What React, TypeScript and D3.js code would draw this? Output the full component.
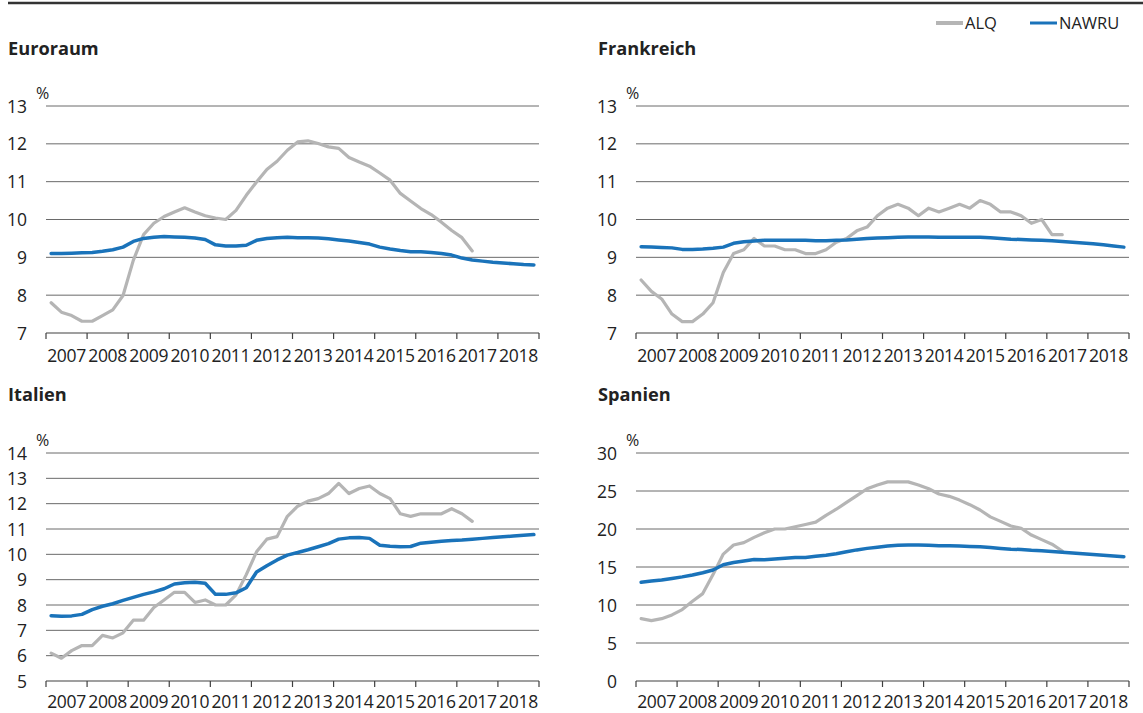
import React from "react";
import * as d3 from "d3";

// ---------- data ----------
const yearLabels = ["2007", "2008", "2009", "2010", "2011", "2012", "2013", "2014", "2015", "2016", "2017", "2018"];
const firstYear = 2007;

// quarterly, 2007Q1 .. 2017Q2
const euroALQ = [7.8, 7.55, 7.46, 7.31, 7.31, 7.46, 7.61, 7.99, 8.92, 9.6, 9.9, 10.08, 10.2, 10.31, 10.2, 10.1, 10.04, 10.0, 10.24, 10.64, 10.99, 11.32, 11.54, 11.83, 12.05, 12.08, 12.01, 11.92, 11.88, 11.64, 11.52, 11.41, 11.23, 11.04, 10.69, 10.49, 10.29, 10.13, 9.93, 9.71, 9.52, 9.17];
// quarterly, 2007Q1 .. 2018Q4
const euroNAWRU = [9.1, 9.1, 9.11, 9.12, 9.13, 9.16, 9.2, 9.27, 9.42, 9.5, 9.53, 9.55, 9.54, 9.53, 9.51, 9.47, 9.33, 9.3, 9.3, 9.32, 9.45, 9.5, 9.52, 9.53, 9.52, 9.52, 9.51, 9.49, 9.46, 9.43, 9.39, 9.35, 9.27, 9.22, 9.18, 9.15, 9.15, 9.13, 9.1, 9.06, 8.98, 8.93, 8.9, 8.87, 8.85, 8.83, 8.81, 8.8];

const franceALQ = [8.4, 8.1, 7.9, 7.5, 7.3, 7.3, 7.5, 7.8, 8.6, 9.1, 9.2, 9.5, 9.3, 9.3, 9.2, 9.2, 9.1, 9.1, 9.2, 9.4, 9.5, 9.7, 9.8, 10.1, 10.3, 10.4, 10.3, 10.1, 10.3, 10.2, 10.3, 10.4, 10.3, 10.5, 10.4, 10.2, 10.2, 10.1, 9.9, 10.0, 9.6, 9.6];
const franceNAWRU = [9.28, 9.27, 9.26, 9.25, 9.21, 9.21, 9.22, 9.24, 9.27, 9.37, 9.41, 9.43, 9.45, 9.45, 9.45, 9.45, 9.45, 9.44, 9.44, 9.45, 9.46, 9.48, 9.5, 9.51, 9.52, 9.53, 9.54, 9.54, 9.54, 9.53, 9.53, 9.53, 9.53, 9.53, 9.52, 9.5, 9.48, 9.47, 9.46, 9.45, 9.44, 9.42, 9.4, 9.38, 9.36, 9.33, 9.3, 9.27];

const italyALQ = [6.1, 5.9, 6.2, 6.4, 6.4, 6.8, 6.7, 6.9, 7.4, 7.4, 7.9, 8.2, 8.5, 8.5, 8.1, 8.2, 8.0, 8.0, 8.4, 9.2, 10.1, 10.6, 10.7, 11.5, 11.9, 12.1, 12.2, 12.4, 12.8, 12.4, 12.6, 12.7, 12.4, 12.2, 11.6, 11.5, 11.6, 11.6, 11.6, 11.8, 11.6, 11.3];
const italyNAWRU = [7.58, 7.56, 7.57, 7.63, 7.82, 7.95, 8.05, 8.18, 8.3, 8.42, 8.52, 8.64, 8.83, 8.88, 8.9, 8.86, 8.42, 8.42, 8.48, 8.68, 9.3, 9.55, 9.78, 9.97, 10.07, 10.18, 10.3, 10.42, 10.6, 10.65, 10.66, 10.63, 10.36, 10.32, 10.3, 10.31, 10.44, 10.48, 10.52, 10.55, 10.57, 10.6, 10.63, 10.66, 10.69, 10.72, 10.75, 10.78];

const spainALQ = [8.2, 7.95, 8.2, 8.7, 9.4, 10.5, 11.5, 14.0, 16.7, 17.9, 18.2, 18.9, 19.5, 20.0, 20.0, 20.3, 20.6, 20.9, 21.8, 22.6, 23.5, 24.4, 25.3, 25.8, 26.2, 26.2, 26.2, 25.8, 25.3, 24.6, 24.3, 23.8, 23.2, 22.5, 21.6, 21.0, 20.4, 20.1, 19.2, 18.6, 18.0, 17.1];
const spainNAWRU = [13.0, 13.15, 13.3, 13.5, 13.7, 13.95, 14.25, 14.6, 15.3, 15.6, 15.8, 16.0, 15.95, 16.05, 16.15, 16.25, 16.25, 16.4, 16.55, 16.75, 17.0, 17.25, 17.45, 17.6, 17.75, 17.85, 17.9, 17.9, 17.85, 17.8, 17.8, 17.75, 17.7, 17.65, 17.55, 17.45, 17.35, 17.3, 17.2, 17.15, 17.05, 16.95, 16.85, 16.75, 16.65, 16.55, 16.45, 16.35];

const ticksA = [7, 8, 9, 10, 11, 12, 13];
const ticksIT = [5, 6, 7, 8, 9, 10, 11, 12, 13, 14];
const ticksES = [0, 5, 10, 15, 20, 25, 30];

const seriesNames = ["ALQ", "NAWRU"];

// ---------- style ----------
const FONT = "'Open Sans', 'Noto Sans', sans-serif";
const TEXT = "#222";
const GREY = "#b5b5b5";
const BLUE = "#1a73ba";
const GRID = "#6a6a6a";
const AXIS = "#404040";
const FS = 17.5;

type PanelProps = {
  title: string;
  alq: number[];
  nawru: number[];
  ticks: number[];
  x0: number;
  x1: number;
  yTop: number;
  yBottom: number;
  titleY: number;
  labelOffset: number;
};

function Panel({ title, alq, nawru, ticks, x0, x1, yTop, yBottom, titleY, labelOffset }: PanelProps) {
  const x = d3.scaleLinear().domain([firstYear, firstYear + yearLabels.length]).range([x0, x1]);
  const y = d3.scaleLinear().domain([ticks[0], ticks[ticks.length - 1]]).range([yBottom, yTop]);
  const t = (i: number) => firstYear + (i + 0.5) / 4;
  const line = d3
    .line<number>()
    .x((_, i) => x(t(i)))
    .y((d) => y(d));
  const tickYears = d3.range(firstYear, firstYear + yearLabels.length + 1);
  return (
    <g>
      <text x={x0 - 38} y={titleY} fontFamily={FONT} fontWeight={700} fontSize={18.2} fill={TEXT}>
        {title}
      </text>
      <text x={x0 - 10} y={yTop - 7} fontFamily={FONT} fontSize={16} fill={TEXT}>
        %
      </text>
      {ticks.slice(1).map((v) => (
        <line key={v} x1={x0} x2={x1} y1={y(v)} y2={y(v)} stroke={GRID} strokeWidth={1} />
      ))}
      {ticks.map((v) => (
        <text key={"l" + v} x={x0 - 19} y={y(v) + 6.5} textAnchor="end" fontFamily={FONT} fontSize={FS} fill={TEXT}>
          {v}
        </text>
      ))}
      <line x1={x0} x2={x1} y1={yBottom} y2={yBottom} stroke={AXIS} strokeWidth={1.2} />
      {tickYears.map((yr) => (
        <line key={"t" + yr} x1={x(yr)} x2={x(yr)} y1={yBottom} y2={yBottom + 6} stroke={AXIS} strokeWidth={1.2} />
      ))}
      {yearLabels.map((lab, i) => (
        <text key={lab} x={x(firstYear + i + 0.5)} y={yBottom + labelOffset} textAnchor="middle" fontFamily={FONT} fontSize={FS} letterSpacing={-0.3} fill={TEXT}>
          {lab}
        </text>
      ))}
      <path d={line(alq) || ""} fill="none" stroke={GREY} strokeWidth={3.2} strokeLinejoin="round" strokeLinecap="round" />
      <path d={line(nawru) || ""} fill="none" stroke={BLUE} strokeWidth={3.5} strokeLinejoin="round" strokeLinecap="round" />
    </g>
  );
}

export default function App() {
  const W = 1143;
  const H = 713;
  return (
    <svg width={W} height={H} style={{ position: "absolute", left: 0, top: 0, background: "#fff" }}>
      <line x1={8} x2={W} y1={3} y2={3} stroke="#333" strokeWidth={2.5} />
      {/* legend */}
      <g>
        <line x1={936} x2={963} y1={23} y2={23} stroke={GREY} strokeWidth={4} />
        <text x={965} y={29} fontFamily={FONT} fontSize={16.5} fill={TEXT}>{seriesNames[0]}</text>
        <line x1={1030} x2={1057} y1={23} y2={23} stroke={BLUE} strokeWidth={3} />
        <text x={1059} y={29} fontFamily={FONT} fontSize={16.5} fill={TEXT}>{seriesNames[1]}</text>
      </g>
      <Panel title="Euroraum" alq={euroALQ} nawru={euroNAWRU} ticks={ticksA} x0={46} x1={539} yTop={106} yBottom={333} titleY={55} labelOffset={29} />
      <Panel title="Frankreich" alq={franceALQ} nawru={franceNAWRU} ticks={ticksA} x0={636} x1={1129} yTop={106} yBottom={333} titleY={55} labelOffset={29} />
      <Panel title="Italien" alq={italyALQ} nawru={italyNAWRU} ticks={ticksIT} x0={46} x1={539} yTop={453} yBottom={681} titleY={401} labelOffset={26.5} />
      <Panel title="Spanien" alq={spainALQ} nawru={spainNAWRU} ticks={ticksES} x0={636} x1={1129} yTop={453} yBottom={681} titleY={401} labelOffset={26.5} />
    </svg>
  );
}
